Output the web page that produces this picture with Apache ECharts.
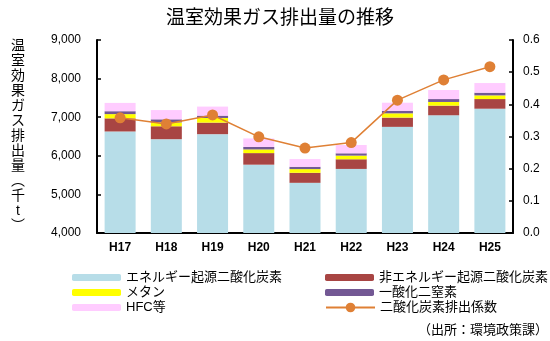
<!DOCTYPE html>
<html>
<head>
<meta charset="utf-8">
<script src="https://cdn.jsdelivr.net/npm/echarts@6/dist/echarts.min.js"></script>
<style>
  html, body { margin: 0; padding: 0; background: #fff; }
  #chart { width: 550px; height: 341px; }
</style>
</head>
<body>
<div id="chart"></div>
<script>
// 年度
var years = ['H17', 'H18', 'H19', 'H20', 'H21', 'H22', 'H23', 'H24', 'H25'];

// 温室効果ガス排出量（千t）
var energyCO2    = [6630, 6430, 6560, 5770, 5300, 5660, 6750, 7050, 7220];
var nonEnergyCO2 = [340, 335, 300, 300, 260, 250, 240, 250, 250];
var methane      = [110, 100, 120, 95, 95, 95, 110, 95, 95];
var n2o          = [75, 80, 60, 65, 60, 60, 65, 75, 70];
var hfc          = [215, 240, 235, 220, 200, 215, 210, 235, 250];

// 二酸化炭素排出係数
var co2Factor = [0.358, 0.339, 0.367, 0.299, 0.264, 0.281, 0.413, 0.476, 0.517];

// 目盛
var leftTicks = { min: 4000, max: 9000, interval: 1000 };
var rightTicks = { min: 0, max: 0.6, interval: 0.1 };

var FONT = '"Liberation Sans", "Noto Sans CJK JP", sans-serif';
var yName = '温室効果ガス排出量︵千t︶';
var sourceNote = '（出所：環境政策課）';

var chart = echarts.init(document.getElementById('chart'), null, { renderer: 'canvas' });

function barSeries(name, data, color) {
  return {
    name: name,
    type: 'bar',
    stack: 'ghg',
    data: data,
    barWidth: 31,
    itemStyle: { color: color },
    emphasis: { disabled: true }
  };
}

var legendBase = {
  orient: 'vertical',
  top: 270,
  padding: 0,
  itemWidth: 49,
  itemHeight: 7,
  itemGap: 0,
  textStyle: { fontFamily: FONT, fontSize: 13, color: '#000', lineHeight: 15 }
};

chart.setOption({
  animation: false,
  title: {
    text: '温室効果ガス排出量の推移',
    left: 161,
    top: 4,
    textStyle: { fontFamily: FONT, fontSize: 19, fontWeight: 'normal', color: '#000' }
  },
  grid: { left: 97, right: 37, top: 40, bottom: 108 },
  legend: [
    Object.assign({}, legendBase, {
      left: 72,
      data: ['エネルギー起源二酸化炭素', 'メタン', 'HFC等']
    }),
    Object.assign({}, legendBase, {
      left: 325,
      data: ['非エネルギー起源二酸化炭素', '一酸化二窒素']
    }),
    // 排出係数の凡例は線と大きめの丸で描く
    Object.assign({}, legendBase, {
      left: 325,
      top: 300,
      itemHeight: 12,
      data: ['二酸化炭素排出係数']
    })
  ],
  graphic: [{
    type: 'text',
    right: 2,
    top: 324,
    style: { text: sourceNote, font: '13px ' + FONT, fill: '#000' }
  }],
  xAxis: {
    type: 'category',
    data: years,
    boundaryGap: true,
    axisLine: { lineStyle: { color: '#000', width: 2 } },
    axisTick: { inside: true, length: 4, lineStyle: { color: '#000', width: 1.5 } },
    axisLabel: { fontFamily: FONT, fontSize: 12, fontWeight: 'bold', color: '#000', margin: 9 }
  },
  yAxis: [
    {
      type: 'value',
      min: leftTicks.min,
      max: leftTicks.max,
      interval: leftTicks.interval,
      name: yName.split('').join('\n'),
      nameLocation: 'middle',
      nameRotate: 0,
      nameGap: 79,
      nameTextStyle: { fontFamily: FONT, fontSize: 14, color: '#000', lineHeight: 15, align: 'center' },
      splitLine: { show: false },
      axisLine: { show: true, lineStyle: { color: '#000', width: 2 } },
      axisTick: { show: true, inside: true, length: 4, lineStyle: { color: '#000', width: 1.5 } },
      axisLabel: {
        fontFamily: FONT, fontSize: 12, color: '#000', margin: 16,
        formatter: function (v) { return v.toLocaleString('en-US'); }
      }
    },
    {
      type: 'value',
      min: rightTicks.min,
      max: rightTicks.max,
      interval: rightTicks.interval,
      position: 'right',
      splitLine: { show: false },
      axisLine: { show: true, lineStyle: { color: '#000', width: 2 } },
      axisTick: { show: true, inside: true, length: 4, lineStyle: { color: '#000', width: 1.5 } },
      axisLabel: {
        fontFamily: FONT, fontSize: 12, color: '#000', margin: 10,
        formatter: function (v) { return v.toFixed(1); }
      }
    }
  ],
  series: [
    barSeries('エネルギー起源二酸化炭素', energyCO2, '#B7DDE8'),
    barSeries('非エネルギー起源二酸化炭素', nonEnergyCO2, '#A84543'),
    barSeries('メタン', methane, '#FFFF00'),
    barSeries('一酸化二窒素', n2o, '#735894'),
    barSeries('HFC等', hfc, '#FFCCFF'),
    {
      name: '二酸化炭素排出係数',
      type: 'line',
      yAxisIndex: 1,
      data: co2Factor,
      symbol: 'circle',
      symbolSize: 11,
      lineStyle: { color: '#DF8035', width: 1.5 },
      itemStyle: { color: '#DF8035' },
      emphasis: { disabled: true },
      z: 5
    }
  ]
});
</script>
</body>
</html>
